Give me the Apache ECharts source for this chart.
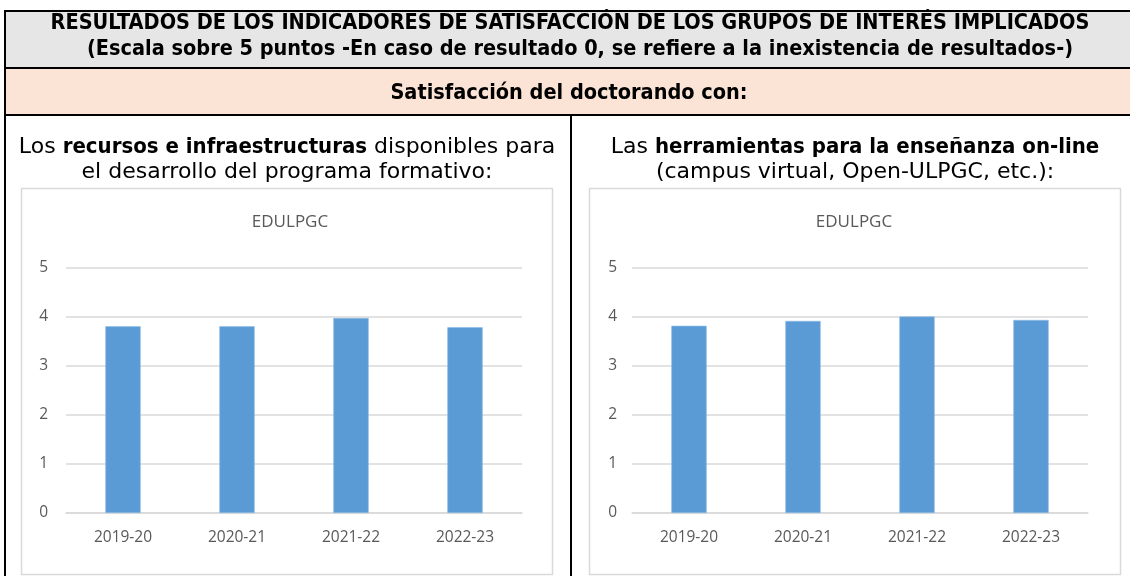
<!DOCTYPE html>
<html>
<head>
<meta charset="utf-8">
<script src="https://cdn.jsdelivr.net/npm/echarts@6/dist/echarts.min.js"></script>
<style>
  html, body { margin: 0; padding: 0; background: #ffffff; }
  #chart { width: 1130px; height: 576px; }
</style>
</head>
<body>
<div id="chart"></div>
<script>
// Academic years on the category axis
const years = ['2019-20', '2020-21', '2021-22', '2022-23'];
// Satisfaction with resources and infrastructures (0-5 scale)
const recursos = [3.81, 3.81, 3.98, 3.79];
// Satisfaction with on-line teaching tools (0-5 scale)
const herramientas = [3.82, 3.92, 4.01, 3.94];
// Value axis ticks
const yTicks = [0, 1, 2, 3, 4, 5];

const HEAD_FONT = '"DejaVu Sans Condensed", "DejaVu Sans", sans-serif';
const REG_FONT = '"DejaVu Sans", sans-serif';
const CHART_FONT = '"Open Sans", "Liberation Sans", sans-serif';
const GREY_TXT = '#595959';
const GRID_LINE = '#d9d9d9';
const BAR = '#5b9bd5';

const chart = echarts.init(document.getElementById('chart'), null, { renderer: 'canvas' });

function axisPair(gridIndex, labelMargin) {
  return {
    x: {
      type: 'category', gridIndex, data: years,
      axisTick: { show: false },
      axisLine: { lineStyle: { color: GRID_LINE, width: 1.5 } },
      axisLabel: { color: GREY_TXT, fontFamily: CHART_FONT, fontSize: 15.5, margin: 17 }
    },
    y: {
      type: 'value', gridIndex,
      min: yTicks[0], max: yTicks[yTicks.length - 1], interval: 1,
      axisLine: { show: false }, axisTick: { show: false },
      splitLine: { lineStyle: { color: GRID_LINE, width: 1.5 } },
      axisLabel: { color: GREY_TXT, fontFamily: CHART_FONT, fontSize: 15.5, margin: labelMargin }
    }
  };
}
const a0 = axisPair(0, 18);
const a1 = axisPair(1, 15);

const bar = (data, idx) => ({
  type: 'bar', data, xAxisIndex: idx, yAxisIndex: idx,
  barWidth: '31%',
  itemStyle: { color: BAR, borderColor: '#8fbce6', borderWidth: 0.6 },
  silent: true
});

const border = { stroke: '#000000', lineWidth: 2 };
const captionRich = {
  n: { font: '22px ' + REG_FONT, fill: '#000' },
  b: { font: 'bold 22px ' + HEAD_FONT, fill: '#000' }
};

chart.setOption({
  animation: false,
  grid: [
    { left: 66, top: 268, width: 456, height: 245 },
    { left: 632, top: 268, width: 456, height: 245 }
  ],
  xAxis: [a0.x, a1.x],
  yAxis: [a0.y, a1.y],
  series: [bar(recursos, 0), bar(herramientas, 1)],
  graphic: [
    // header bands
    { type: 'rect', shape: { x: 5, y: 11, width: 1125, height: 57 }, style: { fill: '#e7e6e6' }, z: -1 },
    { type: 'rect', shape: { x: 5, y: 68, width: 1125, height: 47 }, style: { fill: '#fbe4d5' }, z: -1 },
    // table rules
    { type: 'line', shape: { x1: 4, y1: 11, x2: 1130, y2: 11 }, style: border },
    { type: 'line', shape: { x1: 4, y1: 68, x2: 1130, y2: 68 }, style: border },
    { type: 'line', shape: { x1: 4, y1: 115, x2: 1130, y2: 115 }, style: border },
    { type: 'line', shape: { x1: 5, y1: 10, x2: 5, y2: 576 }, style: border },
    { type: 'line', shape: { x1: 571, y1: 115, x2: 571, y2: 576 }, style: border },
    // header texts
    { type: 'text', x: 570, y: 23, style: {
        text: 'RESULTADOS DE LOS INDICADORES DE SATISFACCIÓN DE LOS GRUPOS DE INTERÉS IMPLICADOS',
        font: 'bold 21.5px ' + HEAD_FONT, fill: '#000', align: 'center', verticalAlign: 'middle' } },
    { type: 'text', x: 580, y: 49, style: {
        text: '(Escala sobre 5 puntos -En caso de resultado 0, se refiere a la inexistencia de resultados-)',
        font: 'bold 21.5px ' + HEAD_FONT, fill: '#000', align: 'center', verticalAlign: 'middle' } },
    { type: 'text', x: 569, y: 93, style: {
        text: 'Satisfacción del doctorando con:',
        font: 'bold 21.5px ' + HEAD_FONT, fill: '#000', align: 'center', verticalAlign: 'middle' } },
    // panel captions
    { type: 'text', x: 287, y: 147, style: {
        text: '{n|Los }{b|recursos e infraestructuras}{n| disponibles para}',
        rich: captionRich, align: 'center', verticalAlign: 'middle' } },
    { type: 'text', x: 287, y: 172, style: {
        text: 'el desarrollo del programa formativo:',
        font: '22px ' + REG_FONT, fill: '#000', align: 'center', verticalAlign: 'middle' } },
    { type: 'text', x: 855, y: 147, style: {
        text: '{n|Las }{b|herramientas para la enseñanza on-line}',
        rich: captionRich, align: 'center', verticalAlign: 'middle' } },
    { type: 'text', x: 855, y: 172, style: {
        text: '(campus virtual, Open-ULPGC, etc.):',
        font: '22px ' + REG_FONT, fill: '#000', align: 'center', verticalAlign: 'middle' } },
    // chart frames
    { type: 'rect', shape: { x: 21.5, y: 188.5, width: 531, height: 386 }, style: { fill: 'none', stroke: GRID_LINE, lineWidth: 1.5 } },
    { type: 'rect', shape: { x: 589.5, y: 188.5, width: 531, height: 386 }, style: { fill: 'none', stroke: GRID_LINE, lineWidth: 1.5 } },
    // chart titles
    { type: 'text', x: 290, y: 222, style: {
        text: 'EDULPGC', font: '17px ' + CHART_FONT, fill: GREY_TXT, align: 'center', verticalAlign: 'middle' } },
    { type: 'text', x: 854, y: 222, style: {
        text: 'EDULPGC', font: '17px ' + CHART_FONT, fill: GREY_TXT, align: 'center', verticalAlign: 'middle' } }
  ]
});
</script>
</body>
</html>
